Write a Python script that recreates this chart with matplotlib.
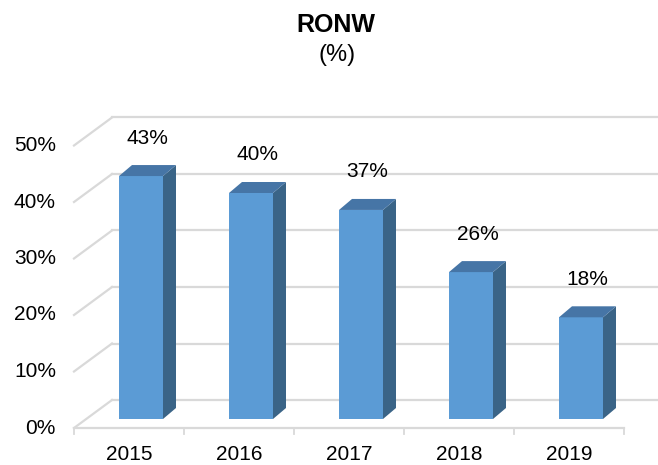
import matplotlib.pyplot as plt
from matplotlib.patches import Polygon

years = ["2015", "2016", "2017", "2018", "2019"]
ronw = [43, 40, 37, 26, 18]
ticks = [0, 10, 20, 30, 40, 50]
tick_labels = ["0%", "10%", "20%", "30%", "40%", "50%"]

plt.rcParams['font.family'] = ['Liberation Sans', 'DejaVu Sans']

# pixel scale of the "bar plane"
px_cat = 110.0    # pixels per category
px_pct = 5.65     # pixels per percent
x0_px, y0_px = 141.0, 419.0   # where category 0 / 0% sits in pixels

def dxp(p):
    return p / px_cat

def dyp(p):
    return p / px_pct

fig = plt.figure(figsize=(6.58, 4.65), dpi=100)
ax = fig.add_axes([0, 0, 1, 1])
ax.set_xlim(-x0_px / px_cat, (658 - x0_px) / px_cat)
ax.set_ylim((y0_px - 465) / px_pct, y0_px / px_pct)
ax.axis('off')

# depth offsets (front of floor, back wall, bar depth)
front_dx, front_dy = dxp(-12), dyp(-9)
back_dx, back_dy = dxp(26), dyp(19)
bar_dx, bar_dy = dxp(13), dyp(11)
half = 0.2
grid_c = '#D9D9D9'
n = len(years)
left = -0.5
fs = 15

# back wall gridlines + left side diagonals
for t, lab in zip(ticks, tick_labels):
    ax.plot([left + back_dx, 5.0], [t + back_dy, t + back_dy], color=grid_c, lw=1.6, zorder=1, clip_on=False)
    ax.plot([left + front_dx, left + back_dx], [t + front_dy, t + back_dy], color=grid_c, lw=1.6, zorder=1)
    ax.text(left + front_dx - dxp(18), t + front_dy, lab, ha='right', va='center', fontsize=fs)

# floor front edge and category ticks
ax.plot([left + front_dx, n - 0.5 + front_dx], [front_dy, front_dy], color=grid_c, lw=1.6, zorder=1)
for k in range(n + 1):
    xb = k - 0.5 + front_dx
    ax.plot([xb, xb], [front_dy, front_dy - dyp(6)], color=grid_c, lw=1.3, zorder=1)

for i, (yr, v) in enumerate(zip(years, ronw)):
    xl, xr = i - half, i + half
    front = Polygon([(xl, 0), (xr, 0), (xr, v), (xl, v)], closed=True, fc='#5B9BD5', ec='none', zorder=3)
    side = Polygon([(xr, 0), (xr + bar_dx, bar_dy), (xr + bar_dx, v + bar_dy), (xr, v)], closed=True,
                   fc='#3A6487', ec='none', zorder=3)
    top = Polygon([(xl, v), (xr, v), (xr + bar_dx, v + bar_dy), (xl + bar_dx, v + bar_dy)], closed=True,
                  fc='#4675A6', ec='none', zorder=3)
    for p in (front, side, top):
        ax.add_patch(p)
    ax.text(i + bar_dx / 2, v + dyp(38), f"{v}%", ha='center', va='center', fontsize=fs, zorder=4)
    ax.text(i + front_dx, front_dy - dyp(26), yr, ha='center', va='center', fontsize=fs)

fig.text(336 / 658, 1 - 25 / 465, "RONW", ha='center', va='center', fontsize=18, fontweight='bold')
fig.text(337 / 658, 1 - 55 / 465, "(%)", ha='center', va='center', fontsize=17)

fig.savefig('out.png', dpi=100)
